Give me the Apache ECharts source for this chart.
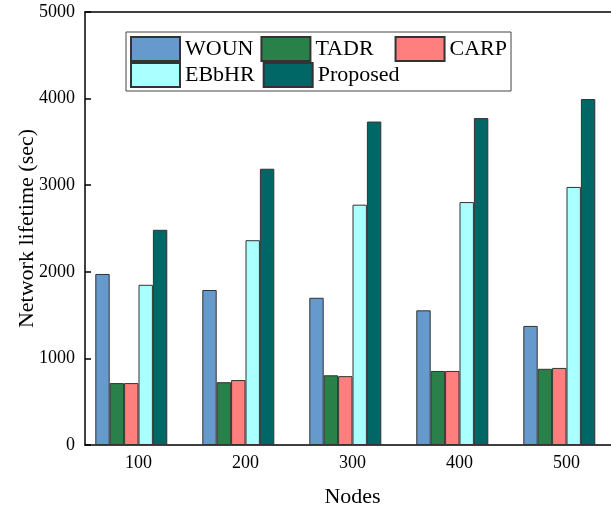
<!DOCTYPE html>
<html>
<head>
<meta charset="utf-8">
<script src="https://cdn.jsdelivr.net/npm/echarts@6/dist/echarts.min.js"></script>
<style>
  html, body { margin: 0; padding: 0; background: #fff; }
  #chart { width: 611px; height: 511px; }
</style>
</head>
<body>
<div id="chart"></div>
<script>
// values
const nodes = ['100', '200', '300', '400', '500'];
const woun = [1975, 1790, 1700, 1555, 1375];
const tadr = [715, 725, 805, 855, 880];
const carp = [715, 750, 795, 855, 890];
const ebbhr = [1850, 2365, 2775, 2805, 2980];
const proposed = [2485, 3190, 3735, 3775, 3995];
const pad = [0, 0, 0, 0, 0];
const yTicks = [0, 1000, 2000, 3000, 4000, 5000];

const font = 'Liberation Serif';
const chart = echarts.init(document.getElementById('chart'));

const bar = (name, data, color, border = 1) => ({
  name,
  type: 'bar',
  data,
  barWidth: 14.4,
  barGap: '0%',
  itemStyle: { color, borderColor: '#333', borderWidth: border }
});

// extra right padding so the legend entries line up in columns
const legendItem = (name, right) => ({ name, textStyle: { padding: [0, right, 0, 0] } });

const option = {
  animation: false,
  grid: { left: 85, top: 12, width: 535, height: 433, outerBoundsMode: 'none', containLabel: false },
  legend: {
    left: 126,
    top: 32,
    width: 400,
    orient: 'horizontal',
    icon: 'rect',
    itemWidth: 49,
    itemHeight: 24,
    itemGap: 0,
    padding: [4, 4, 3, 4],
    borderColor: '#444',
    borderWidth: 1,
    textStyle: { fontFamily: font, fontSize: 22, lineHeight: 20, color: '#000' },
    data: [
      legendItem('WOUN', 7),
      legendItem('TADR', 21),
      legendItem('CARP', 0),
      legendItem('EBbHR', 8),
      legendItem('Proposed', 0)
    ]
  },
  xAxis: [
    {
      type: 'category',
      data: nodes,
      name: 'Nodes',
      nameLocation: 'middle',
      nameGap: 41,
      nameTextStyle: { fontFamily: font, fontSize: 22, color: '#000' },
      axisLine: { lineStyle: { color: '#000', width: 1.5 } },
      axisTick: { inside: true, alignWithLabel: true, length: 5, lineStyle: { color: '#000', width: 1.5 } },
      axisLabel: { fontFamily: font, fontSize: 18, color: '#000', margin: 9 }
    },
    {
      type: 'category',
      data: nodes,
      position: 'top',
      axisLine: { lineStyle: { color: '#000', width: 1.5 } },
      axisTick: { inside: true, length: 6, lineStyle: { color: '#000', width: 1.5 } },
      axisLabel: { show: false }
    }
  ],
  yAxis: {
    type: 'value',
    min: yTicks[0],
    max: yTicks[yTicks.length - 1],
    interval: 1000,
    name: 'Network lifetime (sec)',
    nameLocation: 'middle',
    nameGap: 47,
    nameMoveOverlap: false,
    nameTextStyle: { fontFamily: font, fontSize: 22, color: '#000' },
    axisLine: { show: true, lineStyle: { color: '#000', width: 1.5 } },
    axisTick: { show: true, inside: true, length: 6, lineStyle: { color: '#000', width: 1.5 } },
    axisLabel: { fontFamily: font, fontSize: 18, color: '#000', margin: 10, formatter: v => String(v) },
    splitLine: { show: false }
  },
  series: [
    bar('WOUN', woun, '#6699CC'),
    bar('TADR', tadr, '#2A8049'),
    bar('CARP', carp, '#FF7F7F'),
    bar('EBbHR', ebbhr, '#AAFFFF'),
    bar('Proposed', proposed, '#006666'),
    // empty slot: the groups in the reference sit half a bar left of the tick
    bar('pad', pad, 'rgba(0,0,0,0)', 0)
  ]
};

chart.setOption(option);
</script>
</body>
</html>
